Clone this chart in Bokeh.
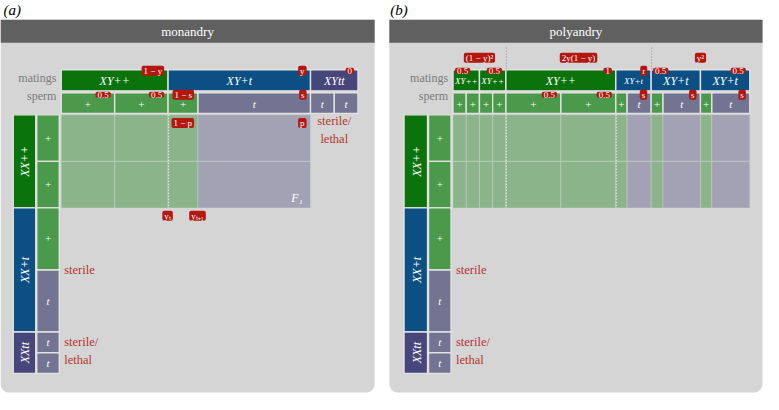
import numpy as np
from bokeh.plotting import figure
from bokeh.models import Range1d, ColumnDataSource
from bokeh.core.properties import value
from bokeh.embed import file_html
from bokeh.resources import INLINE

# ---------------- data ----------------
panel_titles = ["monandry", "polyandry"]
panel_tags = ["(a)", "(b)"]
row_names = ["matings", "sperm"]

female_genotypes = ["XX++", "XX+t", "XXtt"]
female_share = [0.36, 0.48, 0.16]
female_eggs = [["+", "+"], ["+", "t"], ["t", "t"]]
female_egg_share = [[0.5, 0.5], [0.5, 0.5], [0.5, 0.5]]
female_notes = [None, "sterile", "sterile/\nlethal"]

a_matings = ["XY++", "XY+t", "XYtt"]
a_mating_share = [0.36, 0.48, 0.16]
a_mating_freq = ["1 − y", "y", "0"]
a_mating_notes = [None, None, "sterile/\nlethal"]
a_sperm = [["+", "+"], ["+", "t"], ["t", "t"]]
a_sperm_share = [[0.5, 0.5], [0.21, 0.79], [0.5, 0.5]]
a_sperm_freq = [["0.5", "0.5"], ["1 − s", "s"], [None, None]]
a_offspring_freq = ["1 − p", "p"]
a_generation_marks = ["yₜ", "yₜ₊₁"]
a_offspring_label = "F₁"
a_f1_dividers = [0]

b_groups = ["(1 − y)²", "2y(1 − y)", "y²"]
b_group_of = [0, 0, 1, 1, 2, 2]
b_matings = ["XY++", "XY++", "XY++", "XY+t", "XY+t", "XY+t"]
b_mating_share = [0.089, 0.089, 0.37, 0.119, 0.166, 0.166]
b_mating_freq = ["0.5", "0.5", "1", "r", "0.5", "0.5"]
b_mating_notes = [None] * 6
b_sperm = [["+", "+"], ["+", "+"], ["+", "+"], ["+", "t"], ["+", "t"], ["+", "t"]]
b_sperm_share = [[0.5, 0.5], [0.5, 0.5], [0.5, 0.5], [0.32, 0.68], [0.24, 0.76], [0.23, 0.77]]
b_sperm_freq = [[None, None], [None, None], ["0.5", "0.5"], [None, "s"], [None, "s"], [None, "s"]]
b_f1_dividers = [1, 2]

# ---------------- styles / layout ----------------
RED = "#b3170f"
NOTE = "#b3372e"
BG = "#d5d5d5"
HEAD = "#606060"
SEP = "#e2e2e2"
MCOL = {"XY++": "#0b730b", "XY+t": "#0c4f83", "XYtt": "#47467a",
        "XX++": "#0b730b", "XX+t": "#0c4f83", "XXtt": "#47467a"}
GCOL = {"+": "#4b994b", "t": "#737392"}
FCOL = {"+": "#8cb48a", "t": "#a3a2b4"}
SERIF = value("'Liberation Serif', 'Times New Roman', serif")

LAYOUT = [
    dict(bg=(0, 382), grid=(62, 365), fcol1=(13, 36), fcol2=(37, 60), tag_x=3,
         freq_side=["right", "right", "right"]),
    dict(bg=(397, 778), grid=(462, 765), fcol1=(412, 436), fcol2=(437, 460), tag_x=398,
         freq_side=["left", "right", "right", "right", "left", "right"]),
]
Y_HEAD = (20, 44)
Y_MAT = (72, 94)
Y_SP = (96, 117.5)
Y_ROWS = (119, 388)
Y_BOTTOM = 408

p = figure(width=763, height=394, x_range=Range1d(0, 779), y_range=Range1d(410, 0),
           output_backend="svg", toolbar_location=None, min_border=0,
           x_axis_type=None, y_axis_type=None)
p.grid.visible = False
p.outline_line_color = None


def split(a, b, shares):
    s = np.asarray(shares, float)
    s = s / s.sum()
    e = a + np.concatenate([[0.0], np.cumsum(s)]) * (b - a)
    return e[:-1], e[1:]


def rounded(x0, x1, y0, y1, r):
    th = np.linspace(0, np.pi / 2, 12)
    xs = [x0, x1] + list(x1 - r + r * np.cos(th)) + list(x0 + r - r * np.sin(th))
    ys = [y0, y0] + list(y1 - r + r * np.sin(th)) + list(y1 - r + r * np.cos(th))
    return xs, ys


cells = dict(left=[], right=[], top=[], bottom=[], color=[])
soft = dict(left=[], right=[], top=[], bottom=[], color=[])


def cell(store, l, r, t, b, c):
    store["left"].append(l); store["right"].append(r)
    store["top"].append(t); store["bottom"].append(b); store["color"].append(c)


texts = {}


def add_text(key, x, y, t):
    d = texts.setdefault(key, dict(x=[], y=[], text=[]))
    d["x"].append(x); d["y"].append(y); d["text"].append(t)


dots = dict(x0=[], y0=[], x1=[], y1=[])
gdots = dict(x0=[], y0=[], x1=[], y1=[])

panels = [
    (a_matings, a_mating_share, a_mating_freq, a_mating_notes, a_sperm, a_sperm_share, a_sperm_freq, a_f1_dividers),
    (b_matings, b_mating_share, b_mating_freq, b_mating_notes, b_sperm, b_sperm_share, b_sperm_freq, b_f1_dividers),
]

for k, (mats, mshare, mfreq, mnotes, sperm, sshare, sfreq, fdiv) in enumerate(panels):
    L = LAYOUT[k]
    xs, ys = rounded(L["bg"][0], L["bg"][1], Y_HEAD[0], Y_BOTTOM, 9)
    p.patch(xs, ys, fill_color=BG, line_color=None)
    p.quad(left=L["bg"][0], right=L["bg"][1], top=Y_HEAD[0], bottom=Y_HEAD[1], fill_color=HEAD, line_color=None)
    add_text("title", sum(L["bg"]) / 2, sum(Y_HEAD) / 2 + 0.5, panel_titles[k])
    add_text("tag", L["tag_x"], 10, panel_tags[k])
    add_text("rowname", L["grid"][0] - 5, 80.5, row_names[0])
    add_text("rowname", L["grid"][0] - 5, 99.5, row_names[1])

    ml, mr = split(L["grid"][0], L["grid"][1], mshare)
    fl, fr = split(Y_ROWS[0], Y_ROWS[1], female_share)
    f1_top, f1_bot = fl[0], fr[0]
    for i, m in enumerate(mats):
        cell(cells, ml[i], mr[i], Y_MAT[0], Y_MAT[1], MCOL[m])
        add_text("mating" if (mr[i] - ml[i]) > 40 else "mating_s", (ml[i] + mr[i]) / 2, 84, m)
        side = L["freq_side"][i]
        if side == "right":
            add_text("tag_r", mr[i] - 4, 73, mfreq[i])
        else:
            add_text("tag_l", ml[i] + 2, 73, mfreq[i])
        sl, sr = split(ml[i], mr[i], sshare[i])
        for j, g in enumerate(sperm[i]):
            cell(cells, sl[j], sr[j], Y_SP[0], Y_SP[1], GCOL[g])
            add_text("sym_it" if g == "t" else "sym", (sl[j] + sr[j]) / 2, 108, g)
            if sfreq[i][j]:
                add_text("tag_r", sr[j] - 4, 98, sfreq[i][j])
            if mnotes[i] is None:
                el, er = split(f1_top, f1_bot, female_egg_share[0])
                for q in range(len(el)):
                    cell(soft, sl[j], sr[j], el[q], er[q], FCOL[g])
        if mnotes[i]:
            add_text("note_c", (ml[i] + mr[i]) / 2, 135, mnotes[i])
    for d in fdiv:
        dots["x0"].append(mr[d] + 0.5); dots["x1"].append(mr[d] + 0.5)
        dots["y0"].append(f1_top); dots["y1"].append(f1_bot)

    # female side
    for i, g in enumerate(female_genotypes):
        cell(cells, L["fcol1"][0], L["fcol1"][1], fl[i], fr[i], MCOL[g])
        add_text("rot", (L["fcol1"][0] + L["fcol1"][1]) / 2 + 1, (fl[i] + fr[i]) / 2, g)
        el, er = split(fl[i], fr[i], female_egg_share[i])
        for j, e in enumerate(female_eggs[i]):
            cell(cells, L["fcol2"][0], L["fcol2"][1], el[j], er[j], GCOL[e])
            add_text("sym_it" if e == "t" else "sym", (L["fcol2"][0] + L["fcol2"][1]) / 2, (el[j] + er[j]) / 2, e)
        if female_notes[i]:
            ny = er[0] if "\n" not in female_notes[i] else (fl[i] + fr[i]) / 2 - 2
            add_text("note_l", L["fcol2"][1] + 5, ny, female_notes[i])

    if k == 0:
        sl, sr = split(ml[1], mr[1], sshare[1])
        add_text("tag_r", sr[0] - 4, 127.5, a_offspring_freq[0])
        add_text("tag_r", sr[1] - 4, 127.5, a_offspring_freq[1])
        add_text("tag_c", mr[0] - 0.5, 224, a_generation_marks[0])
        add_text("tag_c", sr[0] - 0.5, 224, a_generation_marks[1])
        add_text("f1", sr[1] - 8, 205, a_offspring_label)
    else:
        for gi, gname in enumerate(b_groups):
            idx = [i for i, g in enumerate(b_group_of) if g == gi]
            add_text("tag_c", (ml[idx[0]] + mr[idx[-1]]) / 2, 59.5, gname)
            if gi < len(b_groups) - 1:
                xb = mr[idx[-1]] + 0.5
                gdots["x0"].append(xb); gdots["x1"].append(xb)
                gdots["y0"].append(49); gdots["y1"].append(Y_MAT[0])

p.quad(left="left", right="right", top="top", bottom="bottom", fill_color="color",
       line_color="#cfdccf", line_width=0.8, line_alpha=0.5, source=ColumnDataSource(soft))
p.quad(left="left", right="right", top="top", bottom="bottom", fill_color="color",
       line_color=SEP, line_width=1.4, source=ColumnDataSource(cells))
p.segment(x0="x0", y0="y0", x1="x1", y1="y1", line_color="#f4f4f4", line_width=1.2,
          line_dash="1 2", source=ColumnDataSource(dots))
p.segment(x0="x0", y0="y0", x1="x1", y1="y1", line_color="#8a8a8a", line_width=1,
          line_dash="1 2", source=ColumnDataSource(gdots))

styles = {
    "title": dict(text_color="white", text_font_size="13px", text_align="center", text_baseline="middle"),
    "tag": dict(text_color="black", text_font_size="15px", text_align="left", text_baseline="middle", text_font_style="italic"),
    "rowname": dict(text_color="#7a7a7a", text_font_size="12px", text_align="right", text_baseline="middle"),
    "mating": dict(text_color="white", text_font_size="12px", text_align="center", text_baseline="middle", text_font_style="italic"),
    "mating_s": dict(text_color="white", text_font_size="9px", text_align="center", text_baseline="middle", text_font_style="italic"),
    "sym": dict(text_color="white", text_font_size="11px", text_align="center", text_baseline="middle"),
    "sym_it": dict(text_color="white", text_font_size="11px", text_align="center", text_baseline="middle", text_font_style="italic"),
    "rot": dict(text_color="white", text_font_size="12px", text_align="center", text_baseline="middle", text_font_style="italic", angle=np.pi / 2),
    "note_l": dict(text_color=NOTE, text_font_size="12.5px", text_align="left", text_baseline="middle", text_line_height=1.25),
    "note_c": dict(text_color=NOTE, text_font_size="12.5px", text_align="center", text_baseline="middle", text_line_height=1.25),
    "f1": dict(text_color="white", text_font_size="12px", text_align="right", text_baseline="middle", text_font_style="italic"),
}
tagstyle = dict(text_color="white", text_font_size="9px", text_baseline="middle",
                background_fill_color=RED, border_radius=2,
                padding=dict(left=2, right=2, top=0, bottom=0))
styles["tag_r"] = dict(tagstyle, text_align="right")
styles["tag_l"] = dict(tagstyle, text_align="left")
styles["tag_c"] = dict(tagstyle, text_align="center")

order = ["title", "tag", "rowname", "mating", "mating_s", "sym", "sym_it", "rot", "note_l", "note_c", "f1", "tag_r", "tag_l", "tag_c"]
for key in order:
    if key in texts:
        p.text(x="x", y="y", text="text", source=ColumnDataSource(texts[key]), text_font=SERIF, **styles[key])

open("out.html", "w").write(file_html(p, INLINE))
